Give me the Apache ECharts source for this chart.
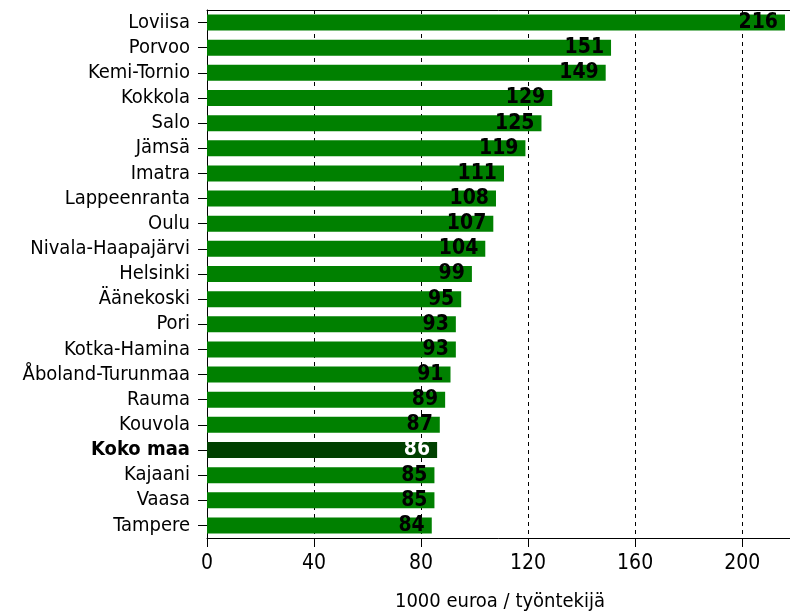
<!DOCTYPE html>
<html>
<head>
<meta charset="utf-8">
<script src="https://cdn.jsdelivr.net/npm/echarts@6/dist/echarts.min.js"></script>
<style>
html,body{margin:0;padding:0;background:#fff;}
#chart{width:790px;height:614px;}
</style>
</head>
<body>
<div id="chart"></div>
<script>
const categories = ["Loviisa","Porvoo","Kemi-Tornio","Kokkola","Salo","Jämsä","Imatra","Lappeenranta","Oulu","Nivala-Haapajärvi","Helsinki","Äänekoski","Pori","Kotka-Hamina","Åboland-Turunmaa","Rauma","Kouvola","Koko maa","Kajaani","Vaasa","Tampere"];
const values = [216,151,149,129,125,119,111,108,107,104,99,95,93,93,91,89,87,86,85,85,84];
const highlight = "Koko maa";
const xTicks = [0,40,80,120,160,200];
const axisTitle = "1000 euroa / työntekijä";

const narrow = '"Liberation Sans Narrow","Arial Narrow","DejaVu Sans Condensed",sans-serif';
const chart = echarts.init(document.getElementById('chart'), null, {renderer:'canvas'});
const data = categories.map((c,i)=>({
  value: values[i],
  itemStyle: {color: c===highlight ? '#004000' : '#008000'},
  label: {color: c===highlight ? '#ffffff' : '#000000'}
}));
chart.setOption({
  animation:false,
  grid:{left:207,right:-3,top:10,bottom:76,containLabel:false,outerBoundsMode:'none'},
  xAxis:[{
    type:'value', min:0, max:219, interval:40, position:'bottom',
    axisLine:{show:true,lineStyle:{color:'#000',width:1}},
    axisTick:{show:true,length:9,lineStyle:{color:'#000'}},
    axisLabel:{color:'#000',fontFamily:narrow,fontSize:21,margin:15,
      formatter:v=> xTicks.indexOf(v)>=0 ? String(v) : ''},
    splitLine:{show:true,lineStyle:{color:'#000',type:[4,4],width:1}},
    name:axisTitle, nameLocation:'middle', nameGap:54,
    nameTextStyle:{color:'#000',fontFamily:narrow,fontSize:20}
  },{
    type:'value', min:0, max:219, position:'top',
    axisLine:{show:true,lineStyle:{color:'#000',width:1}},
    axisTick:{show:false}, axisLabel:{show:false}, splitLine:{show:false}
  }],
  yAxis:{
    type:'category', data:categories, inverse:true,
    axisLine:{show:true,lineStyle:{color:'#000'}},
    axisTick:{show:true,alignWithLabel:true,interval:0,length:9,lineStyle:{color:'#000'}},
    axisLabel:{color:'#000',fontFamily:narrow,fontSize:20,margin:17,interval:0,
      formatter:v=> v===highlight ? '{b|'+v+'}' : v,
      rich:{b:{fontWeight:'bold',fontFamily:narrow,fontSize:20,color:'#000'}}}
  },
  series:[{
    type:'bar', data:data, barWidth:16, xAxisIndex:0,
    label:{show:true,position:'insideRight',distance:7,fontFamily:narrow,fontWeight:'bold',fontSize:21,color:'#000'}
  }]
});
</script>
</body>
</html>
